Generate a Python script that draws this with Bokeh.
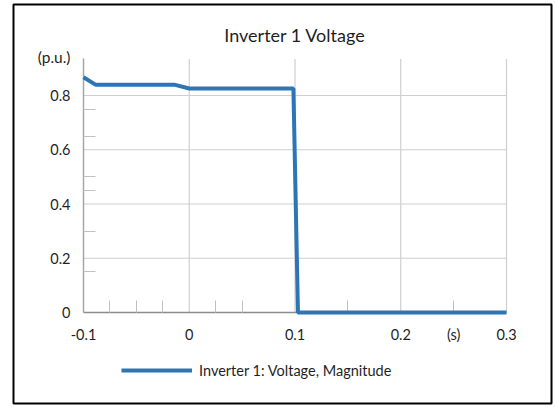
from bokeh.plotting import figure
from bokeh.models import FixedTicker, Legend, LegendItem, Range1d, Label, BoxAnnotation
from bokeh.embed import file_html
from bokeh.resources import INLINE

# ---- data ----
time_s = [-0.1, -0.0887, -0.0142, 0.0, 0.0985, 0.1028, 0.3]
voltage_pu = [0.867, 0.840, 0.840, 0.826, 0.826, 0.0, 0.0]
series_name = "Inverter 1: Voltage, Magnitude"
title_text = "Inverter 1 Voltage"
x_unit = "(s)"
y_unit = "(p.u.)"
x_ticks = [-0.1, 0.0, 0.1, 0.2, 0.25, 0.3]
x_tick_labels = ["-0.1", "0", "0.1", "0.2", x_unit, "0.3"]
x_grid = [0.0, 0.1, 0.2, 0.3]
x_minor = [-0.075, -0.05, -0.025, 0.025, 0.05, 0.15, 0.25]
y_ticks = [0.0, 0.2, 0.4, 0.6, 0.8]
y_tick_labels = ["0", "0.2", "0.4", "0.6", "0.8"]
y_grid = [0.2, 0.4, 0.6, 0.8]
y_minor = [0.15, 0.3, 0.45, 0.5, 0.65, 0.75]

# axis extents of the plot area
X0, X1 = -0.1, 0.3
Y0, Y1 = 0.0, 0.935

FONT = "Lato"
BLUE = "#2E75B6"
TXT = "#1f1f1f"
GRID = "#cfcfcf"

W, H = 555, 407
# the frame covers the whole canvas; the data window is chosen so that the
# plot area sits where it does in the reference
p = figure(width=W, height=H, output_backend="svg", toolbar_location=None,
           title_location=None,
           x_range=Range1d(-0.17849, 0.34634), y_range=Range1d(-0.35023, 1.15023),
           min_border=0)
p.outline_line_color = None
p.background_fill_color = "white"
p.border_fill_color = "white"
p.xgrid.visible = False
p.ygrid.visible = False

# grid lines limited to the plot area
p.segment(x0=x_grid, y0=Y0, x1=x_grid, y1=Y1, line_color=GRID, line_width=1.2,
          level="underlay")
p.segment(x0=X0, y0=y_grid, x1=X1, y1=y_grid, line_color=GRID, line_width=1.2,
          level="underlay")

r = p.line(time_s, voltage_pu, line_color=BLUE, line_width=4, level="overlay")

# axes
xa = p.xaxis[0]
xa.fixed_location = 0
xa.bounds = (X0, X1)
xa.ticker = FixedTicker(ticks=x_ticks, minor_ticks=x_minor)
xa.major_label_overrides = {t: l for t, l in zip(x_ticks, x_tick_labels)}
xa.major_tick_out = 0
xa.major_tick_in = 0
xa.minor_tick_in = 12
xa.minor_tick_out = 0
xa.minor_tick_line_color = "#c0c0c0"
xa.axis_line_color = "#8c8c8c"
xa.axis_line_width = 1.5
xa.major_label_standoff = 13
xa.major_label_text_font = FONT
xa.major_label_text_font_size = "14.5px"
xa.major_label_text_color = TXT

ya = p.yaxis[0]
ya.fixed_location = -0.1
ya.bounds = (Y0, Y1)
ya.ticker = FixedTicker(ticks=y_ticks, minor_ticks=y_minor)
ya.major_label_overrides = {t: l for t, l in zip(y_ticks, y_tick_labels)}
ya.major_tick_out = 0
ya.major_tick_in = 0
ya.minor_tick_in = 12
ya.minor_tick_out = 0
ya.minor_tick_line_color = "#c0c0c0"
ya.axis_line_color = "#a6a6a6"
ya.axis_line_width = 1.5
ya.major_label_standoff = 13
ya.major_label_text_font = FONT
ya.major_label_text_font_size = "14.5px"
ya.major_label_text_color = TXT

# title and unit label
p.add_layout(Label(x=(X0 + X1) / 2, y=Y1, y_offset=24, text=title_text,
                   text_align="center", text_baseline="middle", text_font=FONT,
                   text_font_size="18px", text_color=TXT))
p.add_layout(Label(x=X0, y=Y1, x_offset=-13, y_offset=2, text=y_unit,
                   text_align="right", text_baseline="middle", text_font=FONT,
                   text_font_size="15.5px", text_color=TXT))

# legend
legend = Legend(items=[LegendItem(label=series_name, renderers=[r])],
                location=(121, 27), orientation="horizontal",
                glyph_width=71, glyph_height=20, label_standoff=7,
                padding=0, margin=0, spacing=0, border_line_color=None,
                background_fill_alpha=0,
                label_text_font=FONT, label_text_font_size="14.5px",
                label_text_color=TXT)
p.add_layout(legend, "center")

# outer border of the chart
p.add_layout(BoxAnnotation(left=13, right=551, top=4, bottom=403,
                           left_units="screen", right_units="screen",
                           top_units="screen", bottom_units="screen",
                           fill_alpha=0, line_color="black", line_alpha=1,
                           line_width=2))

open("out.html", "w").write(file_html(p, INLINE))
